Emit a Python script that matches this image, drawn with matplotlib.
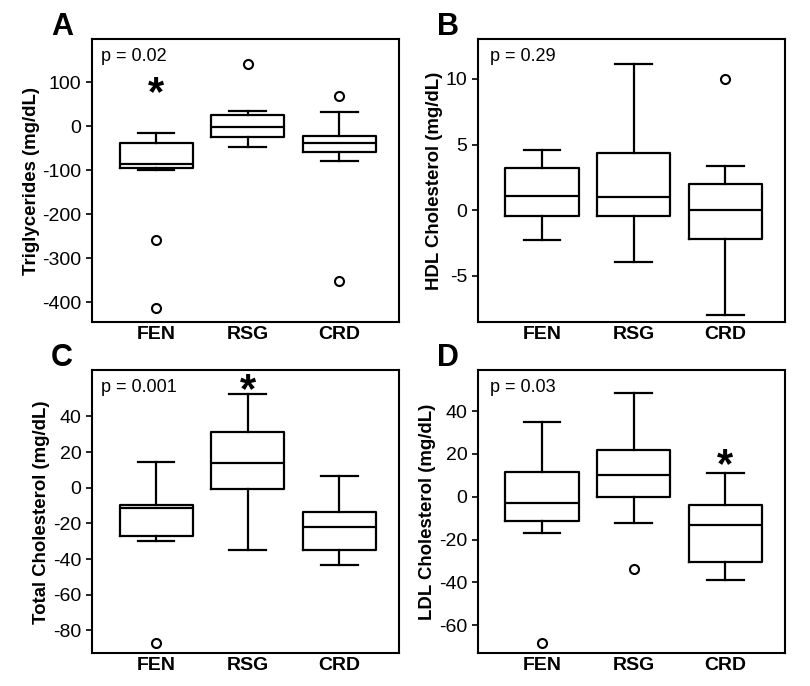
import numpy as np
import matplotlib.pyplot as plt

#============================================
# data
#============================================
groups = ['FEN', 'RSG', 'CRD']

# A: triglycerides
tg_whislo = [-100, -47, -80]
tg_q1     = [-96, -24, -59]
tg_med    = [-85, -2, -38]
tg_q3     = [-39, 26, -22]
tg_whishi = [-15, 35, 31]
tg_fliers = [[-258, -414], [141], [68, -352]]

# B: HDL cholesterol
hdl_whislo = [-2.25, -3.9, -8.0]
hdl_q1     = [-0.45, -0.45, -2.15]
hdl_med    = [1.07, 1.0, 0.02]
hdl_q3     = [3.25, 4.37, 2.03]
hdl_whishi = [4.57, 11.1, 3.4]
hdl_fliers = [[], [], [10.0]]

# C: total cholesterol
tc_whislo = [-30, -35, -43.3]
tc_q1     = [-27, -0.6, -34.7]
tc_med    = [-11.3, 13.7, -22]
tc_q3     = [-9.6, 31, -13.5]
tc_whishi = [14.6, 52.7, 6.8]
tc_fliers = [[-87], [], []]

# D: LDL cholesterol
ldl_whislo = [-17, -12.3, -38.8]
ldl_q1     = [-11.1, -0.2, -30.5]
ldl_med    = [-2.8, 10, -13.3]
ldl_q3     = [11.7, 22, -3.7]
ldl_whishi = [34.8, 48.3, 10.9]
ldl_fliers = [[-68.3], [-33.6], []]

panels = [
    dict(letter='A', ylabel='Triglycerides (mg/dL)', p='p = 0.02',
         stats=(tg_whislo, tg_q1, tg_med, tg_q3, tg_whishi, tg_fliers),
         ylim=(-445, 197), yticks=[-400, -300, -200, -100, 0, 100],
         star=(0, 92)),
    dict(letter='B', ylabel='HDL Cholesterol (mg/dL)', p='p = 0.29',
         stats=(hdl_whislo, hdl_q1, hdl_med, hdl_q3, hdl_whishi, hdl_fliers),
         ylim=(-8.5, 13.0), yticks=[-5, 0, 5, 10], star=None),
    dict(letter='C', ylabel='Total Cholesterol (mg/dL)', p='p = 0.001',
         stats=(tc_whislo, tc_q1, tc_med, tc_q3, tc_whishi, tc_fliers),
         ylim=(-92.7, 65.8), yticks=[-80, -60, -40, -20, 0, 20, 40],
         star=(1, 59)),
    dict(letter='D', ylabel='LDL Cholesterol (mg/dL)', p='p = 0.03',
         stats=(ldl_whislo, ldl_q1, ldl_med, ldl_q3, ldl_whishi, ldl_fliers),
         ylim=(-73, 59), yticks=[-60, -40, -20, 0, 20, 40],
         star=(2, 18)),
]

#============================================
# plotting
#============================================
plt.rcParams['font.family'] = ['Liberation Sans', 'DejaVu Sans']
plt.rcParams['axes.unicode_minus'] = False

fig = plt.figure(figsize=(8.1, 6.86), dpi=100)
boxes = [(0.1136, 0.5306), (0.590, 0.5306), (0.1136, 0.048), (0.590, 0.048)]
W, H = 0.379, 0.412

lw = 1.6
for (x0, y0), pan in zip(boxes, panels):
    ax = fig.add_axes([x0, y0, W, H])
    wl, q1, md, q3, wh, fl = pan['stats']
    bstats = []
    for i in range(3):
        bstats.append(dict(med=md[i], q1=q1[i], q3=q3[i], whislo=wl[i],
                           whishi=wh[i], fliers=fl[i]))
    ax.bxp(bstats, positions=[1, 2, 3], widths=0.8, showfliers=True,
           boxprops=dict(color='black', linewidth=lw),
           medianprops=dict(color='black', linewidth=lw),
           whiskerprops=dict(color='black', linewidth=lw),
           capprops=dict(color='black', linewidth=lw),
           flierprops=dict(marker='o', markersize=6.5, markerfacecolor='white',
                           markeredgecolor='black', markeredgewidth=1.5))
    ax.set_xlim(0.3, 3.65)
    ax.set_ylim(*pan['ylim'])
    ax.set_yticks(pan['yticks'])
    ax.set_xticks([1, 2, 3])
    ax.set_xticklabels(groups, fontsize=14, fontweight='bold')
    ax.tick_params(axis='x', length=0, pad=3)
    ax.tick_params(axis='y', direction='out', length=4, width=1.2, labelsize=14)
    for s in ax.spines.values():
        s.set_linewidth(1.5)
    ax.set_ylabel(pan['ylabel'], fontsize=13.4, fontweight='bold', labelpad=2)
    ax.text(0.03 if x0 < 0.5 else 0.04, 0.94, pan['p'],
            transform=ax.transAxes, fontsize=13, ha='left', va='center')
    if pan['star'] is not None:
        i, yv = pan['star']
        ax.annotate('*', xy=(i + 1, yv), xytext=(0, -6),
                    textcoords='offset points', fontsize=30,
                    fontweight='bold', ha='center', va='center')
    ax.text(-0.098, 1.045, pan['letter'], transform=ax.transAxes, fontsize=22,
            fontweight='bold', ha='center', va='center')

plt.savefig('out.png', dpi=100)
